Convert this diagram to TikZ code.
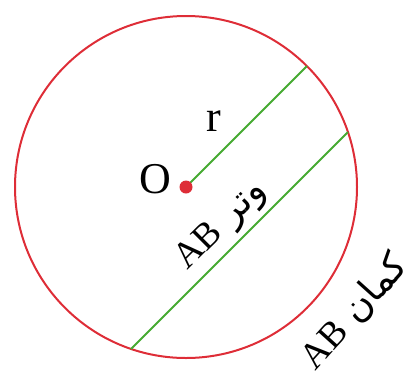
\documentclass[tikz,border=0pt]{standalone}
\usepackage{fontspec}
\setmainfont{Liberation Serif}
\newfontfamily\arabicfont[Script=Arabic]{DejaVu Sans}
\TeXXeTstate=1
\definecolor{cred}{RGB}{222,45,55}
\definecolor{cgreen}{RGB}{70,170,50}
\begin{document}
\begin{tikzpicture}[x=1pt,y=-1pt,
  circ/.style={draw=cred,line width=2pt},
  seg/.style={draw=cgreen,line width=2pt},
  lbl/.style={inner sep=0pt,font=\fontsize{44}{48}\selectfont},
  plbl/.style={inner sep=0pt,font=\fontsize{37}{40}\selectfont}]
\useasboundingbox (0,0) rectangle (415,389);
\coordinate (O) at (186,187);
\coordinate (R) at (307,66);
\coordinate (A) at (348,132);
\coordinate (B) at (131,349);
\draw[circ] (O) circle[radius=171];
\draw[seg] (O) -- (R);
\draw[seg] (A) -- (B);
\fill[cred] (O) circle[radius=6.5];
\node[lbl] (olab) at (155,179) {O};
\node[lbl] (rlab) at (214,121) {r};
\node[plbl,rotate=45] (chordlab) at (222,226) {\arabicfont\beginR وتر \beginL\rmfamily AB\endL\endR};
\node[plbl,rotate=48] (arclab) at (354,312) {\arabicfont\beginR کمان \beginL\rmfamily AB\endL\endR};
\end{tikzpicture}
\end{document}
